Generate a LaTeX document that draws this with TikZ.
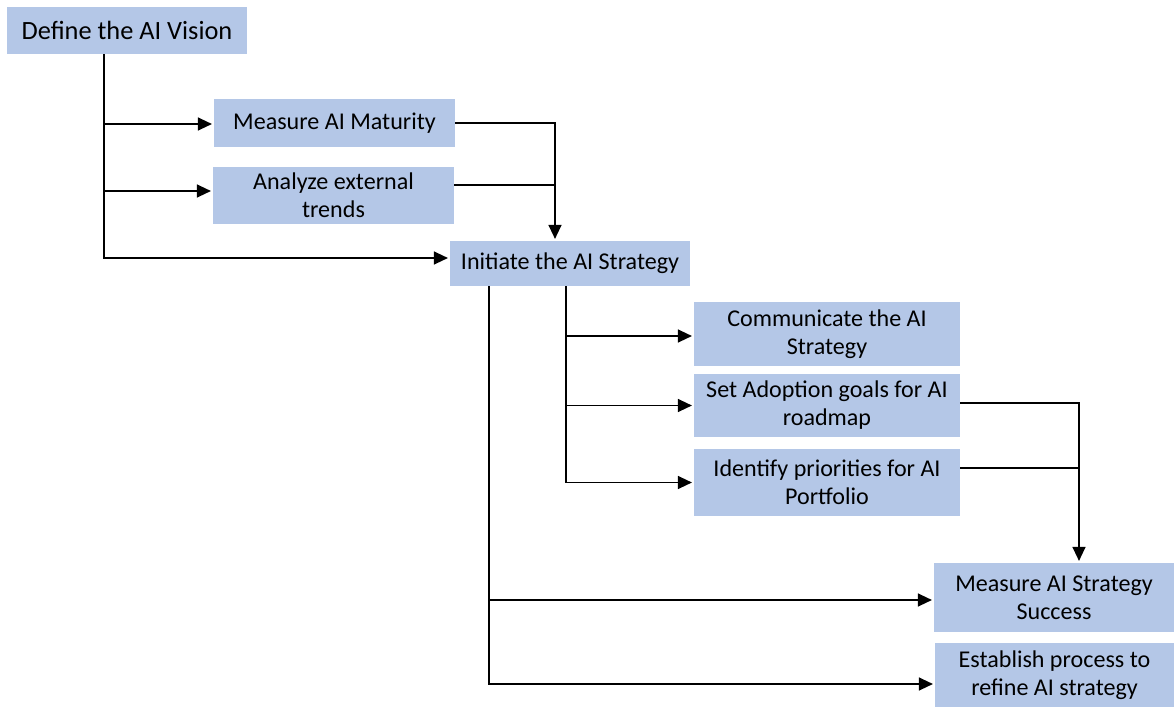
\documentclass[tikz,border=0pt]{standalone}
\usepackage{fontspec}
\setmainfont{Carlito}
\usetikzlibrary{arrows.meta, calc}
\definecolor{boxblue}{HTML}{B4C7E7}
\tikzstyle{step box} = [rectangle, fill=boxblue, inner sep=0pt, align=center,
    font=\fontsize{13.7pt}{16pt}\selectfont]
\tikzstyle{arrow} = [line width=0.75pt, -{Triangle[length=2.8mm, width=2.6mm]}, shorten >=1pt]
\tikzstyle{link} = [line width=0.75pt]

\begin{document}
\begin{tikzpicture}[x=0.02cm, y=-0.02cm]
\useasboundingbox (0,0) rectangle (1174,707);
\node (vision) [step box, minimum width=4.8cm, minimum height=0.94cm, font=\fontsize{15pt}{16pt}\selectfont] at (127,30.5) {Define the AI Vision};
\node (maturity) [step box, minimum width=4.82cm, minimum height=0.96cm] at (334.5,123) {Measure AI Maturity};
\node (trends) [step box, minimum width=4.82cm, minimum height=1.14cm] at (333.5,195.5) {Analyze external\\trends};
\node (initiate) [step box, minimum width=4.8cm, minimum height=0.9cm] at (570,263.5) {Initiate the AI Strategy};
\node (communicate) [step box, minimum width=5.32cm, minimum height=1.28cm] at (827,334) {Communicate the AI\\Strategy};
\node (adoption) [step box, minimum width=5.32cm, minimum height=1.26cm] at (827,405.5) {Set Adoption goals for AI\\roadmap};
\node (priorities) [step box, minimum width=5.32cm, minimum height=1.34cm] at (827,482.5) {Identify priorities for AI\\Portfolio};
\node (success) [step box, minimum width=4.8cm, minimum height=1.38cm] at (1054,597.5) {Measure AI Strategy\\Success};
\node (refine) [step box, minimum width=4.78cm, minimum height=1.28cm] at (1054.5,675) {Establish process to\\refine AI strategy};

% trunk lines
\coordinate (visiontrunk) at (104,0);
\coordinate (matjoin) at (555,0);
\coordinate (inittrunk) at (566,0);
\coordinate (outertrunk) at (489,0);
\coordinate (goaljoin) at (1079,0);

\draw[arrow] (vision.south -| visiontrunk) |- ($(maturity.west)+(0,1)$);
\draw[arrow] (vision.south -| visiontrunk) |- ($(trends.west)+(0,-4.5)$);
\draw[arrow] (vision.south -| visiontrunk) |- ($(initiate.west)+(0,-5.5)$);

\draw[arrow] (maturity.east) -| (initiate.north -| matjoin);
\draw[link] ($(trends.east)+(0,-10.5)$) -- ($(trends.east -| matjoin)+(0,-10.5)$);

\draw[arrow] (initiate.south -| inittrunk) |- ($(communicate.west)+(0,2)$);
\draw[arrow] (initiate.south -| inittrunk) |- (adoption);
\draw[arrow] (initiate.south -| inittrunk) |- (priorities);

\draw[arrow] (initiate.south -| outertrunk) |- ($(success.west)+(0,2.5)$);
\draw[arrow] (initiate.south -| outertrunk) |- ($(refine.west)+(0,9)$);

\draw[arrow] ($(adoption.east)+(0,-2.5)$) -| (success.north -| goaljoin);
\draw[link] ($(priorities.east)+(0,-14.5)$) -- ($(priorities.east -| goaljoin)+(0,-14.5)$);
\end{tikzpicture}
\end{document}
